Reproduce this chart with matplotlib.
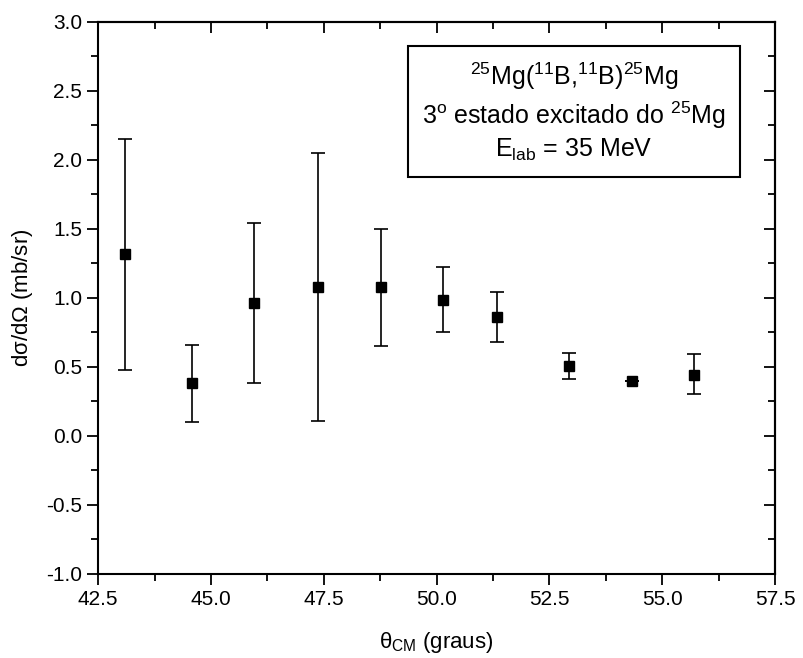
import matplotlib.pyplot as plt
import numpy as np
from matplotlib.ticker import MultipleLocator

plt.rcParams['font.family'] = ['Liberation Sans', 'DejaVu Sans']
plt.rcParams['mathtext.fontset'] = 'custom'
plt.rcParams['mathtext.rm'] = 'Liberation Sans'
plt.rcParams['mathtext.it'] = 'Liberation Sans'

# dados
theta = np.array([43.1, 44.58, 45.96, 47.37, 48.77, 50.14, 51.34, 52.94, 54.33, 55.71])
secao = np.array([1.32, 0.38, 0.96, 1.08, 1.08, 0.985, 0.86, 0.505, 0.40, 0.44])
erro_sup = np.array([0.83, 0.28, 0.58, 0.97, 0.42, 0.235, 0.18, 0.095, 0.0, 0.15])
erro_inf = np.array([0.84, 0.28, 0.58, 0.97, 0.43, 0.235, 0.18, 0.095, 0.0, 0.14])

xticks = [42.5, 45.0, 47.5, 50.0, 52.5, 55.0, 57.5]
yticks = [-1.0, -0.5, 0.0, 0.5, 1.0, 1.5, 2.0, 2.5, 3.0]

fig = plt.figure(figsize=(8.04, 6.58), dpi=100)
ax = fig.add_axes([0.122, 0.128, 0.842, 0.839])

ax.errorbar(theta, secao, yerr=[erro_inf, erro_sup], fmt='s', color='black',
            ms=7, capsize=5, elinewidth=1.2, capthick=1.2)

ax.set_xlim(42.5, 57.5)
ax.set_ylim(-1.0, 3.0)
ax.set_xticks(xticks)
ax.set_xticklabels(['%.1f' % v for v in xticks])
ax.set_yticks(yticks)
ax.set_yticklabels(['%.1f' % v for v in yticks])
ax.xaxis.set_minor_locator(MultipleLocator(1.25))
ax.yaxis.set_minor_locator(MultipleLocator(0.25))

ax.tick_params(which='both', direction='out', labelsize=15, width=1.3)
ax.tick_params(which='major', length=8)
ax.tick_params(which='minor', length=5)

# eixos de cima e da direita com ticks para dentro
topo = ax.secondary_xaxis('top')
topo.set_xticks(xticks)
topo.xaxis.set_minor_locator(MultipleLocator(1.25))
topo.tick_params(which='both', direction='in', labeltop=False, width=1.3)
topo.tick_params(which='major', length=8)
topo.tick_params(which='minor', length=5)
dir_ = ax.secondary_yaxis('right')
dir_.set_yticks(yticks)
dir_.yaxis.set_minor_locator(MultipleLocator(0.25))
dir_.tick_params(which='both', direction='in', labelright=False, width=1.3)
dir_.tick_params(which='major', length=8)
dir_.tick_params(which='minor', length=5)

for s in ax.spines.values():
    s.set_linewidth(1.5)
topo.spines['top'].set_linewidth(1.5)
dir_.spines['right'].set_linewidth(1.5)

ax.set_xlabel(r'$\theta_{\rm CM}$ (graus)', fontsize=16, labelpad=15)
ax.set_ylabel(r'd$\sigma$/d$\Omega$ (mb/sr)', fontsize=16, labelpad=8)

texto = ('$^{25}$Mg($^{11}$B,$^{11}$B)$^{25}$Mg\n'
         '3$^{\\rm o}$ estado excitado do $^{25}$Mg\n'
         'E$_{\\rm lab}$ = 35 MeV')
ax.text(0.703, 0.837, texto, transform=ax.transAxes, ha='center', va='center',
        fontsize=18, linespacing=1.3,
        bbox=dict(boxstyle='square,pad=0.55', fc='white', ec='black', lw=1.5))

fig.savefig('out.png', dpi=100)
